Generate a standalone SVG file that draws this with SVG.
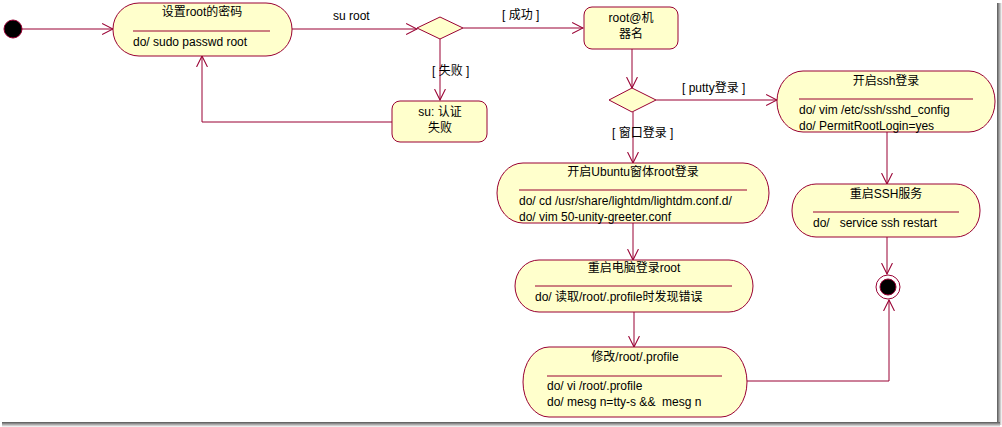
<svg xmlns="http://www.w3.org/2000/svg" width="1002" height="427" viewBox="0 0 1002 427">
<style>
.n{fill:#FFFFCC;stroke:#990033;stroke-width:1}
.sep{stroke:#990033;stroke-width:1}
.e{fill:none;stroke:#990033;stroke-width:1}
text{font-family:"Liberation Sans","Noto Sans CJK SC",sans-serif;font-size:12px;fill:#000}
.c{text-anchor:middle}
.p{white-space:pre}
</style>
<defs>
<marker id="a" markerUnits="userSpaceOnUse" markerWidth="12" markerHeight="12" refX="10" refY="5" orient="auto" viewBox="0 0 11 10">
<path d="M0,0 L10,5 L0,10" fill="none" stroke="#990033" stroke-width="1"/>
</marker>
<linearGradient id="sr" x1="0" x2="1" y1="0" y2="0"><stop offset="0" stop-color="#555"/><stop offset="1" stop-color="#fff"/></linearGradient>
<linearGradient id="sb" x1="0" x2="0" y1="0" y2="1"><stop offset="0" stop-color="#555"/><stop offset="1" stop-color="#fff"/></linearGradient>
</defs>
<rect x="0" y="0" width="1002" height="427" fill="#fff"/>
<rect x="997" y="3" width="5" height="422" fill="url(#sr)"/>
<rect x="2" y="422" width="998" height="5" fill="url(#sb)"/>

<g id="connectors">
<path class="e" d="M22,29 H113" marker-end="url(#a)"/>
<path class="e" d="M292,29 H417" marker-end="url(#a)"/>
<text x="333" y="20">su root</text>
<path class="e" d="M463,28 H583" marker-end="url(#a)"/>
<text x="502" y="19" class="p">[ 成功 ]</text>
<path class="e" d="M440,39 V100" marker-end="url(#a)"/>
<text x="432" y="75" class="p">[ 失败 ]</text>
<path class="e" d="M392,122 H202 V56" marker-end="url(#a)"/>
<path class="e" d="M632,49 V88" marker-end="url(#a)"/>
<path class="e" d="M656,100 H777" marker-end="url(#a)"/>
<text x="682" y="92" class="p">[ putty登录 ]</text>
<path class="e" d="M633,112 V163" marker-end="url(#a)"/>
<text x="612" y="137" class="p">[ 窗口登录 ]</text>
<path class="e" d="M633,223 V260" marker-end="url(#a)"/>
<path class="e" d="M634,312 V347" marker-end="url(#a)"/>
<path class="e" d="M887,132 V184" marker-end="url(#a)"/>
<path class="e" d="M887,237 V274" marker-end="url(#a)"/>
<path class="e" d="M747,381 H889 V300" marker-end="url(#a)"/>
</g>

<g id="start"><circle cx="13" cy="29" r="9" fill="#000" stroke="#990033"/></g>

<g id="n1">
<rect class="n" x="113" y="3" width="179" height="53" rx="26" ry="26"/>
<text class="c" x="202" y="16">设置root的密码</text>
<line class="sep" x1="133" y1="31" x2="270" y2="31"/>
<text x="133" y="46">do/ sudo passwd root</text>
</g>

<g id="d1"><polygon class="n" points="417,28 440,17 463,28 440,39"/></g>

<g id="n2">
<rect class="n" x="584" y="7" width="94" height="42" rx="8" ry="8"/>
<text class="c" x="631" y="22">root@机</text>
<text class="c" x="631" y="38">器名</text>
</g>

<g id="n3">
<rect class="n" x="392" y="101" width="95" height="41" rx="8" ry="8"/>
<text class="c" x="440" y="116">su: 认证</text>
<text class="c" x="440" y="132">失败</text>
</g>

<g id="d2"><polygon class="n" points="609,100 632,88 656,100 632,112"/></g>

<g id="n4">
<rect class="n" x="777" y="71" width="218" height="61" rx="26" ry="30"/>
<text class="c" x="886" y="85">开启ssh登录</text>
<line class="sep" x1="799" y1="99" x2="973" y2="99"/>
<text x="799" y="114">do/ vim /etc/ssh/sshd_config</text>
<text x="799" y="130">do/ PermitRootLogin=yes</text>
</g>

<g id="n5">
<rect class="n" x="792" y="184" width="188" height="53" rx="24" ry="26"/>
<text class="c" x="886" y="198">重启SSH服务</text>
<line class="sep" x1="813" y1="212" x2="959" y2="212"/>
<text x="813" y="227" class="p">do/   service ssh restart</text>
</g>

<g id="n6">
<rect class="n" x="497" y="163" width="272" height="60" rx="26" ry="30"/>
<text class="c" x="633" y="176">开启Ubuntu窗体root登录</text>
<line class="sep" x1="519" y1="190" x2="747" y2="190"/>
<text x="519" y="205">do/ cd /usr/share/lightdm/lightdm.conf.d/</text>
<text x="519" y="221">do/ vim 50-unity-greeter.conf</text>
</g>

<g id="n7">
<rect class="n" x="515" y="260" width="238" height="52" rx="24" ry="26"/>
<text class="c" x="634" y="272">重启电脑登录root</text>
<line class="sep" x1="535" y1="286" x2="732" y2="286"/>
<text x="535" y="301">do/ 读取/root/.profile时发现错误</text>
</g>

<g id="n8">
<rect class="n" x="523" y="347" width="224" height="70" rx="26" ry="35"/>
<text class="c" x="635" y="361">修改/root/.profile</text>
<line class="sep" x1="547" y1="376" x2="722" y2="376"/>
<text x="547" y="390">do/ vi /root/.profile</text>
<text x="547" y="406" class="p">do/ mesg n=tty-s &amp;&amp;  mesg n</text>
</g>

<g id="end">
<circle cx="888" cy="287" r="12" fill="#fff" stroke="#990033"/>
<circle cx="888" cy="287" r="8" fill="#000" stroke="#990033"/>
</g>
</svg>
